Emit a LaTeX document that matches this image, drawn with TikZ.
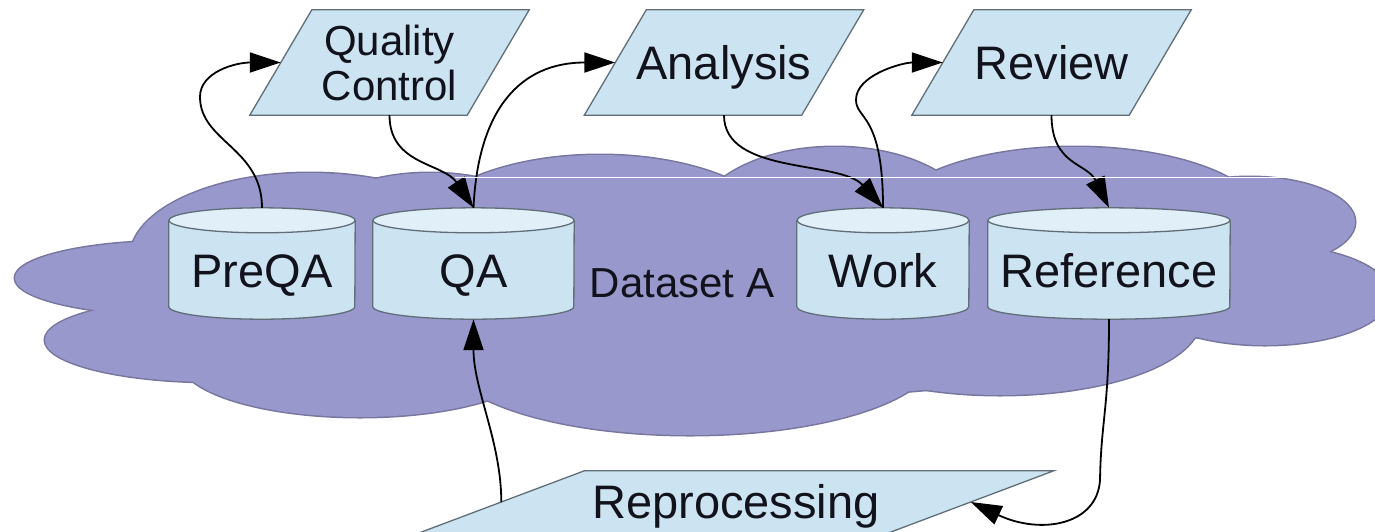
\documentclass[tikz,border=0pt]{standalone}
\usepackage{fontspec}
\setmainfont{Liberation Sans}
\usetikzlibrary{arrows.meta}

\definecolor{cloudfill}{RGB}{153,152,204}
\definecolor{cloudedge}{RGB}{118,118,158}
\definecolor{drumbody}{RGB}{204,228,241}
\definecolor{drumlid}{RGB}{225,240,248}
\definecolor{boxfill}{RGB}{204,228,241}
\definecolor{edgegray}{RGB}{95,110,120}
\definecolor{ink}{RGB}{18,18,28}

\pgfdeclarelayer{cloudlayer}
\pgfdeclarelayer{shapelayer}
\pgfsetlayers{cloudlayer,shapelayer,main}

\tikzset{
  flow/.style={draw=black, line width=1.8pt, -{Triangle[length=31pt,width=20pt]}},
  shapeedge/.style={draw=edgegray, line width=1.3pt},
  drumnode/.style={minimum height=111pt, inner sep=0pt, text height=47pt, text depth=0pt,
    font=\fontsize{47pt}{52pt}\selectfont, text=ink},
  slabnode/.style={minimum height=105pt, minimum width=217pt, inner sep=0pt,
    font=\fontsize{47pt}{52pt}\selectfont, text=ink},
}

% database drum drawn around a node box: #1 node, #2 half width
\newcommand\drum[2]{%
  \fill[drumbody] ([yshift=-12.5pt]#1.north west) -- ([yshift=12.5pt]#1.south west)
    arc[start angle=180, end angle=360, x radius=#2, y radius=12.5pt]
    -- ([yshift=-12.5pt]#1.north east) -- cycle;
  \draw[shapeedge] ([yshift=-12.5pt]#1.north west) -- ([yshift=12.5pt]#1.south west)
    arc[start angle=180, end angle=360, x radius=#2, y radius=12.5pt]
    -- ([yshift=-12.5pt]#1.north east);
  \filldraw[shapeedge, fill=drumlid] ([yshift=-12.5pt]#1.north)
    ellipse[x radius=#2, y radius=12.5pt];
}
% slanted data box around a node box: #1 node, #2 half slant
\newcommand\slab[2]{%
  \filldraw[shapeedge, fill=boxfill]
    ([xshift=-#2]#1.south west) -- ([xshift=-#2]#1.south east)
    -- ([xshift=#2]#1.north east) -- ([xshift=#2]#1.north west) -- cycle;
}

\begin{document}
\begin{tikzpicture}[x=1pt,y=-1pt]
\useasboundingbox (0,0) rectangle (1375,531);

% stores
\node[drumnode, minimum width=186pt] (preqa) at (262,263.5) {PreQA};
\node[drumnode, minimum width=201pt] (qa) at (473.5,263.5) {QA};
\node[drumnode, minimum width=172pt] (work) at (883,263.5) {Work};
\node[drumnode, minimum width=242pt] (ref) at (1109,263.5) {Reference};

% processes
\node[slabnode, align=center, font=\fontsize{42pt}{45pt}\selectfont] (qc) at (389.5,62.5) {Quality\\Control};
\node[slabnode, text height=33.7pt, text depth=0pt] (an) at (724,62.5) {Analysis};
\node[slabnode, text height=33.7pt, text depth=0pt] (rev) at (1051.5,62.5) {Review};
\node[slabnode, minimum width=469pt, minimum height=62pt, text height=33.7pt, text depth=0pt] (rep) at (736,502) {Reprocessing};

\node[font=\fontsize{42pt}{45pt}\selectfont, text=ink, text height=30pt, text depth=0pt, inner sep=0pt] (ds) at (682,282.5) {Dataset A};

% the dataset cloud: outline of every lobe first, then all fills on top
\begin{pgfonlayer}{cloudlayer}
  \foreach \ex/\ey/\ea/\eb in {175/278/160/37, 215/340/170/42, 360/360/180/57,
      690/355/245/80, 1000/320/200/75, 1265/295/125/50, 1250/222/105/45,
      1075/222/190/75, 835/225/140/78, 600/240/185/85, 310/258/180/85,
      430/250/140/77, 690/290/560/110}
    \draw[cloudedge, line width=3pt] (\ex,\ey) ellipse[x radius=\ea, y radius=\eb];
  \foreach \ex/\ey/\ea/\eb in {175/278/160/37, 215/340/170/42, 360/360/180/57,
      690/355/245/80, 1000/320/200/75, 1265/295/125/50, 1250/222/105/45,
      1075/222/190/75, 835/225/140/78, 600/240/185/85, 310/258/180/85,
      430/250/140/77, 690/290/560/110}
    \fill[cloudfill] (\ex,\ey) ellipse[x radius=\ea, y radius=\eb];
\end{pgfonlayer}

\begin{pgfonlayer}{shapelayer}
  \drum{preqa}{93pt}
  \drum{qa}{100.5pt}
  \drum{work}{86pt}
  \drum{ref}{121pt}
  \slab{qc}{31pt}
  \slab{an}{31pt}
  \slab{rev}{31pt}
  \slab{rep}{83pt}
\end{pgfonlayer}

% flows
\draw[flow] (preqa.north) .. controls +(0,-60) and +(0,45) .. ++(-62,-111)
  .. controls +(0,-25) and +(-45,0) .. (qc.west);
\draw[flow] (qc.south) .. controls +(0,50) and +(-30,-45) .. (qa.north);
\draw[flow] (qa.north) .. controls +(4.5,-98) and +(-95.5,0) .. (an.west);
\draw[flow] (an.south) .. controls +(0,60) and +(-43,-48) .. (work.north);
\draw[flow] (work.north) .. controls +(0,-95) and +(0,20) .. ++(-27,-108)
  .. controls +(0,-25) and +(-40,0) .. (rev.west);
\draw[flow] (rev.south) .. controls +(0,50) and +(-22,-45) .. (ref.north);
\draw[flow] (ref.south) .. controls +(0,90) and +(1,-60) .. ++(-9,161)
  .. controls +(-3,45) and +(70,33) .. (rep.east);
\draw[flow] (rep.west) .. controls +(0,-60) and +(0,70) .. (qa.south);

% thin light rule across the upper cloud
\draw[white, line width=0.8pt] (455,177) -- (1375,177);
\end{tikzpicture}
\end{document}
